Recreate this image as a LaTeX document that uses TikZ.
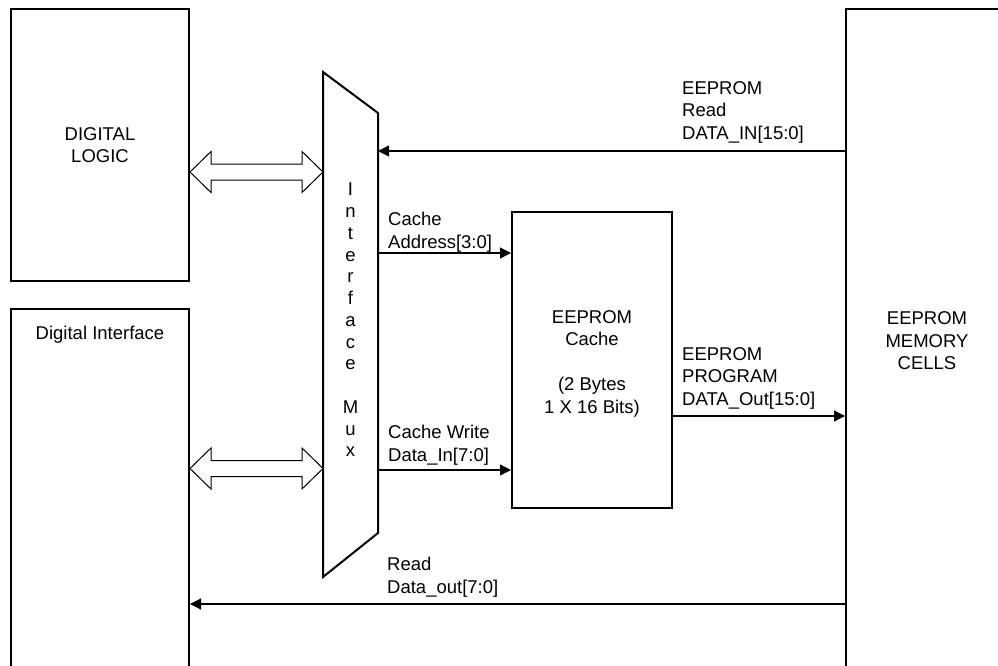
\documentclass[tikz,border=0pt]{standalone}
\usepackage{fontspec}
\setmainfont{Liberation Sans}
\usetikzlibrary{arrows.meta,calc}
\newcommand\dblarr[2]{%
  \draw[dbl] (#1) -- ($(#1)+(21,-20.5)$) -- ($(#1)+(21,-8)$) -- ($(#2)+(-21,-8)$)
    -- ($(#2)+(-21,-20.5)$) -- (#2) -- ($(#2)+(-21,20.5)$) -- ($(#2)+(-21,8)$)
    -- ($(#1)+(21,8)$) -- ($(#1)+(21,20.5)$) -- cycle;}
\begin{document}
\begin{tikzpicture}[x=1pt,y=-1pt,
  box/.style={draw, line width=2pt, inner sep=0pt},
  txt/.style={font=\fontsize{18.5}{22.5}\selectfont, inner sep=0pt, align=left},
  ctxt/.style={txt, align=center},
  sig/.style={line width=1.2pt, -{Triangle[length=11pt,width=11pt]}},
  dbl/.style={draw, line width=1pt, fill=white, line join=miter}]
\useasboundingbox (0,0) rectangle (998,666);
\clip (0,0) rectangle (998,666);
\fill[white] (0,0) rectangle (998,666);

% boxes
\node[box, ctxt, minimum width=178pt, minimum height=272pt] (dl) at (100,145) {DIGITAL\\LOGIC};
\node[box, minimum width=178pt, minimum height=391pt] (di) at (100,504.5) {};
\node[txt, anchor=north] (ditext) at (100,326) {Digital Interface};
\node[box, ctxt, minimum width=162pt, minimum height=664pt] (mem) at (927,341) {EEPROM\\MEMORY\\CELLS};
\node[box, minimum width=160pt, minimum height=296pt] (cache) at (592,360) {};
\node[ctxt, anchor=north] (cachetext) at (592,310) {EEPROM\\Cache\\[22.5pt](2 Bytes\\1 X 16 Bits)};

% mux
\coordinate (muxTL) at (323,72);
\coordinate (muxTR) at (378,113);
\coordinate (muxBR) at (378,533);
\coordinate (muxBL) at (323,577);
\draw[line width=2pt, line join=miter] (muxTL) -- (muxTR) -- (muxBR) -- (muxBL) -- cycle;
\node[ctxt, font=\fontsize{18.5}{21.75}\selectfont, anchor=north] (muxtext) at (350.5,183)
  {I\\n\\t\\e\\r\\f\\a\\c\\e\\[21.75pt]M\\u\\x};

% levels
\coordinate (yRead) at (0,151);
\coordinate (yAddr) at (0,253);
\coordinate (yWr) at (0,470);
\coordinate (yProg) at (0,416);
\coordinate (yRdo) at (0,604);
\coordinate (yDA1) at (0,172);
\coordinate (yDA2) at (0,468.5);

% connectors
\draw[sig] (mem.west |- yRead) -- (muxTR |- yRead);
\draw[sig] (muxTR |- yAddr) -- (cache.west |- yAddr);
\draw[sig] (muxBR |- yWr) -- (cache.west |- yWr);
\draw[sig] (cache.east |- yProg) -- (mem.west |- yProg);
\draw[sig] (mem.west |- yRdo) -- (di.east |- yRdo);

\coordinate (A1) at (dl.east |- yDA1);
\coordinate (B1) at (muxTL |- yDA1);
\coordinate (A2) at (di.east |- yDA2);
\coordinate (B2) at (muxTL |- yDA2);
\dblarr{A1}{B1}
\dblarr{A2}{B2}

% labels
\node[txt, anchor=north west] (lrd) at (682,81) {EEPROM\\Read\\DATA\_IN[15:0]};
\node[txt, anchor=north west] (lca) at (388,212) {Cache\\Address[3:0]};
\node[txt, anchor=north west] (lcw) at (388,425) {Cache Write\\Data\_In[7:0]};
\node[txt, anchor=north west] (lpg) at (682,347) {EEPROM\\PROGRAM\\DATA\_Out[15:0]};
\node[txt, anchor=north west] (lrdo) at (387,557) {Read\\Data\_out[7:0]};
\end{tikzpicture}
\end{document}
